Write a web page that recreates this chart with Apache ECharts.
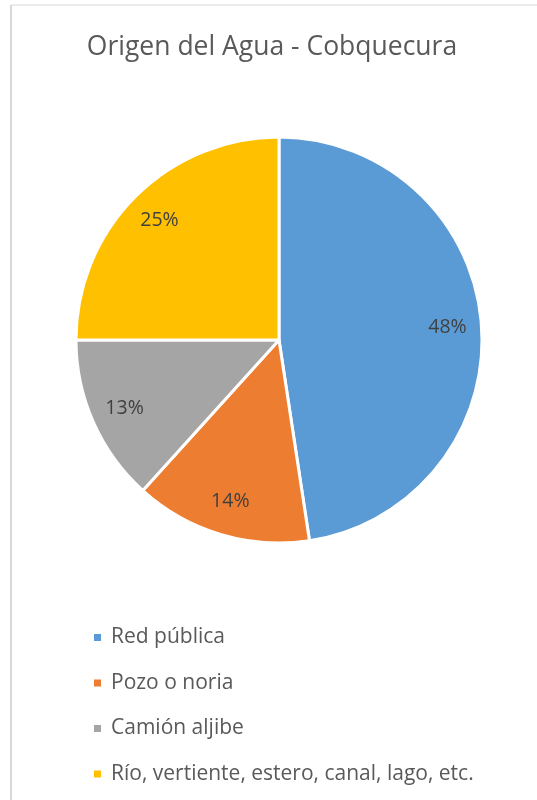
<!DOCTYPE html>
<html>
<head>
<meta charset="utf-8">
<script src="https://cdn.jsdelivr.net/npm/echarts@6/dist/echarts.min.js"></script>
<style>html,body{margin:0;padding:0;background:#fff;}#c{width:537px;height:800px;}</style>
</head>
<body>
<div id="c"></div>
<script>
const categories = ['Red pública', 'Pozo o noria', 'Camión aljibe', 'Río, vertiente, estero, canal, lago, etc.'];
const values = [47.6, 14.1, 13.3, 25.0];
const colors = ['#5B9BD5', '#ED7D31', '#A5A5A5', '#FFC000'];
const titleText = 'Origen del Agua - Cobquecura';

const FONT = '"Open Sans", Lato, sans-serif';
const chart = echarts.init(document.getElementById('c'));
const data = categories.map((n, i) => ({ name: n, value: values[i], itemStyle: { color: colors[i] } }));
const total = values.reduce((a, b) => a + b, 0);

chart.setOption({
  animation: false,
  graphic: [
    { type: 'line', shape: { x1: 11, y1: 5, x2: 11, y2: 800 }, style: { stroke: '#d9d9d9', lineWidth: 2 } },
    { type: 'line', shape: { x1: 11, y1: 5, x2: 537, y2: 5 }, style: { stroke: '#d9d9d9', lineWidth: 1 } }
  ],
  title: {
    text: titleText,
    left: 267, top: 29, textAlign: 'center',
    textStyle: { fontFamily: FONT, fontSize: 26.5, fontWeight: 'normal', color: '#595959' }
  },
  legend: {
    orient: 'vertical',
    left: 92, top: 627,
    padding: 0,
    itemWidth: 9, itemHeight: 9, itemGap: 24.5,
    icon: 'rect',
    data: categories.map((n, i) => ({ name: n, itemStyle: { color: colors[i] } })),
    textStyle: { fontFamily: FONT, fontSize: 21, color: '#595959', lineHeight: 21, padding: [0, 0, 0, 4] }
  },
  series: [
    {
      type: 'pie',
      center: [279, 340],
      radius: [0, 203],
      startAngle: 90,
      clockwise: true,
      data: data,
      itemStyle: { borderColor: '#fff', borderWidth: 3 },
      label: { show: false },
      labelLine: { show: false },
      emphasis: { disabled: true }
    },
    {
      type: 'pie',
      center: [279, 340],
      radius: [129, 203],
      startAngle: 90,
      clockwise: true,
      silent: true,
      data: categories.map((n, i) => ({ name: n, value: values[i], itemStyle: { color: 'rgba(0,0,0,0)' } })),
      itemStyle: { borderWidth: 0 },
      label: {
        show: true, position: 'inside',
        formatter: p => Math.round(p.value / total * 100) + '%',
        fontFamily: FONT, fontSize: 19.5, color: '#404040'
      },
      labelLine: { show: false },
      emphasis: { disabled: true }
    }
  ]
});
</script>
</body>
</html>
